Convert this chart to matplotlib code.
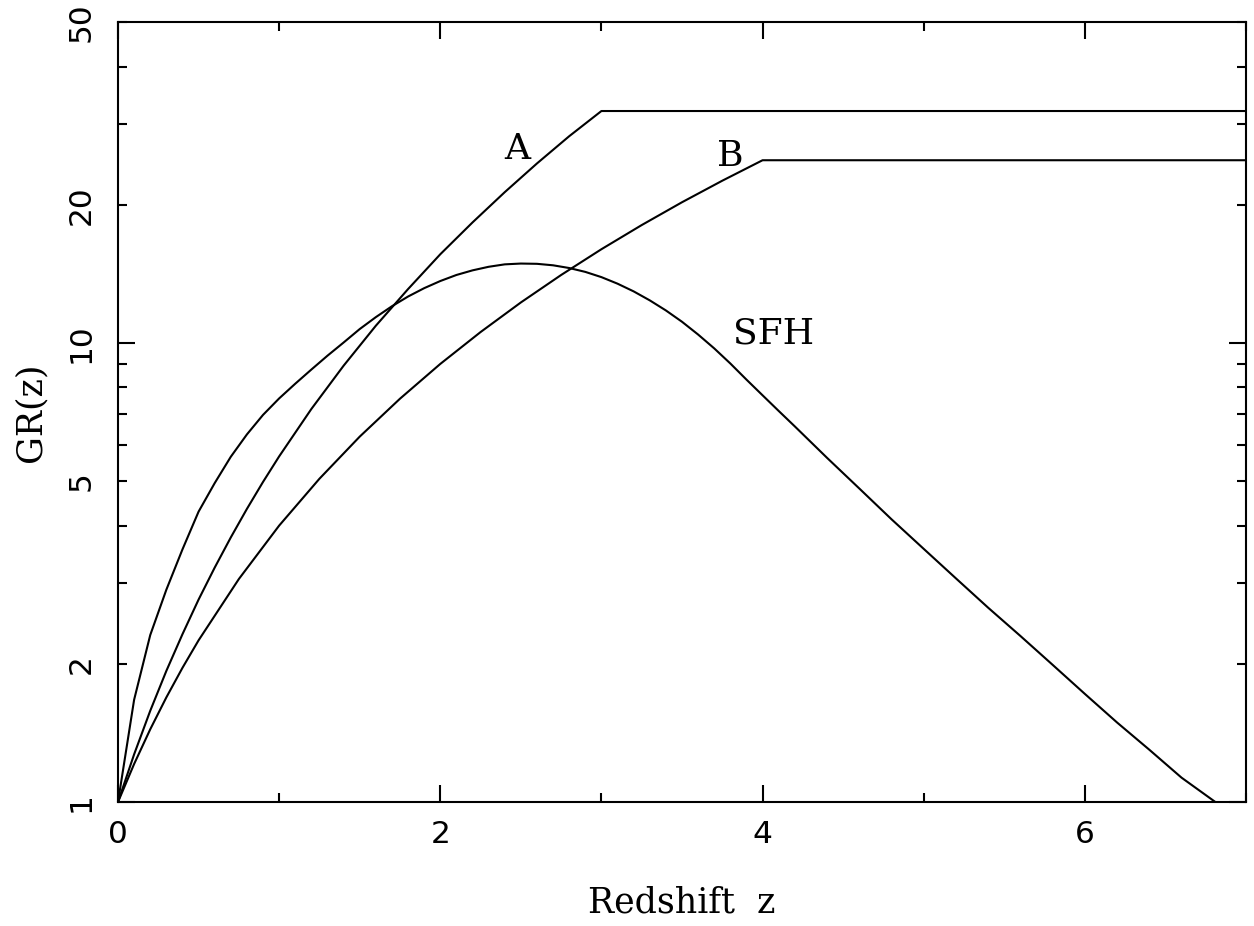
import matplotlib
matplotlib.use("Agg")
import matplotlib.pyplot as plt
from matplotlib.ticker import FixedLocator, FuncFormatter

# model A: rises to z=3 then flat
z_a = [0.0, 0.1, 0.2, 0.3, 0.4, 0.5, 0.6, 0.7, 0.8, 0.9, 1.0, 1.2, 1.4, 1.6, 1.8, 2.0,
       2.2, 2.4, 2.6, 2.8, 3.0, 7.0]
gr_a = [1.0, 1.27, 1.58, 1.93, 2.32, 2.76, 3.24, 3.77, 4.35, 4.98, 5.66, 7.18, 8.92, 10.9,
        13.1, 15.6, 18.3, 21.3, 24.6, 28.2, 32.0, 32.0]

# model B: rises to z=4 then flat
z_b = [0.0, 0.1, 0.2, 0.3, 0.4, 0.5, 0.75, 1.0, 1.25, 1.5, 1.75, 2.0, 2.25, 2.5, 2.75,
       3.0, 3.25, 3.5, 3.75, 4.0, 7.0]
gr_b = [1.0, 1.21, 1.44, 1.69, 1.96, 2.25, 3.06, 4.0, 5.06, 6.25, 7.56, 9.0, 10.56, 12.25,
        14.06, 16.0, 18.06, 20.25, 22.56, 25.0, 25.0]

# star formation history
z_sfh = [0.0, 0.1, 0.2, 0.3, 0.4, 0.5, 0.6, 0.7, 0.8, 0.9, 1.0, 1.1, 1.2, 1.3, 1.4, 1.5,
         1.6, 1.7, 1.8, 1.9, 2.0, 2.1, 2.2, 2.3, 2.4, 2.5, 2.6, 2.7, 2.8, 2.9, 3.0, 3.1,
         3.2, 3.3, 3.4, 3.5, 3.6, 3.7, 3.8, 3.9, 4.0, 4.1, 4.2, 4.4, 4.6, 4.8, 5.0, 5.2,
         5.4, 5.6, 5.8, 6.0, 6.2, 6.4, 6.6, 6.81]
gr_sfh = [1.0, 1.67, 2.31, 2.90, 3.55, 4.29, 4.95, 5.65, 6.32, 6.97, 7.57, 8.15, 8.75, 9.38,
          10.02, 10.72, 11.38, 12.02, 12.62, 13.16, 13.64, 14.06, 14.39, 14.65, 14.83, 14.89,
          14.87, 14.76, 14.56, 14.28, 13.91, 13.46, 12.95, 12.38, 11.77, 11.12, 10.43, 9.73,
          9.02, 8.32, 7.69, 7.11, 6.58, 5.62, 4.82, 4.13, 3.56, 3.07, 2.65, 2.30, 1.99, 1.72,
          1.49, 1.30, 1.13, 1.0]

curve_labels = ["A", "B", "SFH"]
label_pos = [(2.48, 26.5), (3.80, 25.6), (4.07, 10.5)]

serif = "DejaVu Serif"

fig = plt.figure(figsize=(12.54, 9.26), dpi=100)
ax = fig.add_axes([0.0941, 0.1339, 0.8995, 0.8423])

for zz, gg in [(z_a, gr_a), (z_b, gr_b), (z_sfh, gr_sfh)]:
    ax.plot(zz, gg, color="black", lw=1.5)

for txt, (x, y) in zip(curve_labels, label_pos):
    ax.text(x, y, txt, fontsize=26, family=serif, ha="center", va="center")

ax.set_yscale("log")
ax.set_xlim(0, 7)
ax.set_ylim(1, 50)

ax.xaxis.set_major_locator(FixedLocator([0, 2, 4, 6]))
ax.xaxis.set_minor_locator(FixedLocator([1, 3, 5, 7]))
ax.xaxis.set_major_formatter(FuncFormatter(lambda v, p: f"{v:g}"))

ax.yaxis.set_major_locator(FixedLocator([1, 10]))
ax.yaxis.set_minor_locator(FixedLocator([2, 3, 4, 5, 6, 7, 8, 9, 20, 30, 40, 50]))
ax.yaxis.set_major_formatter(FuncFormatter(lambda v, p: f"{v:g}"))
ax.yaxis.set_minor_formatter(FuncFormatter(lambda v, p: f"{v:g}" if v in (2, 5, 20, 50) else ""))

ax.tick_params(which="both", direction="in", top=True, right=True, width=1.5,
               labelsize=22.5, colors="black")
ax.tick_params(which="major", length=12)
ax.tick_params(which="minor", length=6.5)
ax.tick_params(axis="x", which="both", pad=13)
ax.tick_params(axis="y", which="both", pad=16, labelrotation=90)
for lab in ax.get_yticklabels(which="both"):
    lab.set_va("center")

for s in ax.spines.values():
    s.set_linewidth(1.5)

ax.set_xlabel("Redshift  z", fontsize=25, family=serif, labelpad=26)
ax.set_ylabel("GR(z)", fontsize=25, family=serif, labelpad=14)

fig.savefig("out.png", dpi=100)
